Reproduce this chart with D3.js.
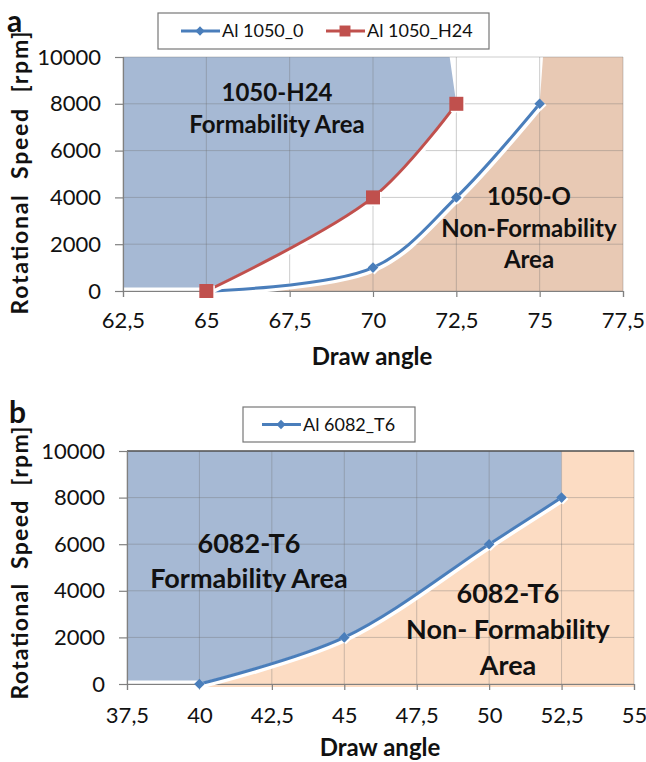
<!DOCTYPE html>
<html>
<head>
<meta charset="utf-8">
<script src="https://cdn.jsdelivr.net/npm/d3@7"></script>
<style>
  html, body { margin: 0; padding: 0; background: #fff; }
  svg { display: block; }
  text { font-family: Lato, "Open Sans", "DejaVu Sans", sans-serif; fill: #111; }
</style>
</head>
<body>
<svg id="fig" width="646" height="762"></svg>
<script>
// ---- Panel a: Al 1050 ----
const aXTicks = [62.5, 65, 67.5, 70, 72.5, 75, 77.5];
const aYTicks = [0, 2000, 4000, 6000, 8000, 10000];
const a1050O_angle = [65, 70, 72.5, 75];
const a1050O_speed = [0, 1000, 4000, 8000];
const a1050H24_angle = [65, 70, 72.5];
const a1050H24_speed = [0, 4000, 8000];

// ---- Panel b: Al 6082 ----
const bXTicks = [37.5, 40, 42.5, 45, 47.5, 50, 52.5, 55];
const bYTicks = [0, 2000, 4000, 6000, 8000, 10000];
const b6082_angle = [40, 45, 50, 52.5];
const b6082_speed = [0, 2000, 6000, 8000];

const fmt = d => String(d).replace(".", ",");
const BLUE = "#4a7ebb", RED = "#c0504d";
const svg = d3.select("#fig");

function drawPanel(p) {
  const g = svg.append("g");
  const x = d3.scaleLinear().domain(p.xDomain).range(p.xRange);
  const y = d3.scaleLinear().domain([0, 10000]).range(p.yRange);
  const curve = d3.curveCatmullRom.alpha(0.5);
  const lineGen = d3.line().x(d => x(d[0])).y(d => y(d[1])).curve(curve);
  const seg = pts => lineGen(pts).replace(/^M/, "L");

  // formability (blue) region: left of / above the boundary curve
  const fb = p.formBoundary;
  g.append("path")
    .attr("d", `M${x(p.xDomain[0])},${y(10000)}L${x(p.xDomain[0])},${y(p.floor)}L${x(fb.pts[0][0])},${y(p.floor)}` +
               seg(fb.pts) + `L${x(fb.topEdge)},${y(10000)}Z`)
    .attr("fill", "#a6b9d4");

  // non-formability (orange) region: right of / below its boundary curve
  const nb = p.nonBoundary;
  g.append("path")
    .attr("d", lineGen(nb.pts) + `L${x(nb.topEdge)},${y(10000)}L${x(p.xDomain[1])},${y(10000)}L${x(p.xDomain[1])},${y(0) + p.orangeDrop}L${x(nb.pts[0][0])},${y(0) + p.orangeDrop}Z`)
    .attr("fill", p.orange);

  // gridlines
  g.selectAll(".hg").data(p.yTicks).join("line")
    .attr("x1", x(p.xDomain[0])).attr("x2", x(p.xDomain[1]))
    .attr("y1", d => y(d)).attr("y2", d => y(d))
    .attr("stroke", "rgba(110,110,110,0.35)").attr("stroke-width", 1);
  g.selectAll(".vg").data(p.xTicks).join("line")
    .attr("x1", d => x(d)).attr("x2", d => x(d))
    .attr("y1", y(0)).attr("y2", y(10000))
    .attr("stroke", "rgba(110,110,110,0.35)").attr("stroke-width", 1);
  if (p.darkTop) {
    g.append("line").attr("x1", x(p.xDomain[0])).attr("x2", x(p.xDomain[1]))
      .attr("y1", y(10000)).attr("y2", y(10000)).attr("stroke", "#555").attr("stroke-width", 1.5);
  }

  // axes
  const xAxis = d3.axisBottom(x).tickValues(p.xTicks).tickFormat(fmt).tickSize(6).tickPadding(p.xPad);
  const yAxis = d3.axisLeft(y).tickValues(p.yTicks).tickFormat(d => d).tickSize(8).tickPadding(14);
  const gx = g.append("g").attr("transform", `translate(0,${y(0)})`).call(xAxis);
  const gy = g.append("g").attr("transform", `translate(${x(p.xDomain[0])},0)`).call(yAxis);
  [gx, gy].forEach(ax => {
    ax.select(".domain").attr("stroke", "#808080").attr("stroke-width", 1.2);
    ax.selectAll(".tick line").attr("stroke", "#808080").attr("stroke-width", 1.2);
    ax.selectAll("text").style("font-size", "22px").attr("fill", "#111");
  });

  // series
  p.series.forEach(s => {
    const pts = s.angle.map((a, i) => [a, s.speed[i]]);
    g.append("path").attr("d", lineGen(pts)).attr("fill", "none")
      .attr("stroke", "#fff").attr("stroke-width", 6).attr("transform", "translate(1.5,1.5)");
    g.append("path").attr("d", lineGen(pts)).attr("fill", "none")
      .attr("stroke", s.color).attr("stroke-width", 3);
    const sym = d3.symbol().type(s.marker === "square" ? d3.symbolSquare : d3.symbolDiamond2)
      .size(s.marker === "square" ? 196 : 72);
    g.selectAll(null).data(pts).join("path")
      .attr("d", sym).attr("transform", d => `translate(${x(d[0]) + 1.5},${y(d[1]) + 1.5})`)
      .attr("fill", "#fff");
    g.selectAll(null).data(pts).join("path")
      .attr("d", sym).attr("transform", d => `translate(${x(d[0])},${y(d[1])})`)
      .attr("fill", s.color);
  });

  // region labels
  p.notes.forEach(n => {
    const t = g.append("text").attr("text-anchor", "middle")
      .style("font-size", p.noteSize + "px").style("font-weight", "bold");
    n.lines.forEach((l, i) => t.append("tspan").attr("x", n.x).attr("y", n.y + i * n.dy).text(l));
  });

  // axis titles & panel letter
  g.append("text").attr("x", p.xTitle[0]).attr("y", p.xTitle[1]).attr("text-anchor", "middle")
    .style("font-size", "24px").style("font-weight", "bold").text("Draw angle");
  g.append("text").attr("transform", `translate(${p.yTitle[0]},${p.yTitle[1]}) rotate(-90)`)
    .attr("text-anchor", "middle").style("font-size", "23px").style("font-weight", "bold")
    .attr("textLength", p.yTitle[2]).attr("lengthAdjust", "spacing")
    .style("white-space", "pre").text("Rotational  Speed  [rpm]");
  g.append("text").attr("x", p.letter[0]).attr("y", p.letter[1])
    .style("font-size", "30px").style("font-weight", "bold").text(p.letterText);

  // legend
  const L = p.legend;
  g.append("rect").attr("x", L.box[0]).attr("y", L.box[1]).attr("width", L.box[2]).attr("height", L.box[3])
    .attr("fill", "#fff").attr("stroke", "#777").attr("stroke-width", 1.2);
  L.items.forEach((it, i) => {
    const s = p.series[i];
    const cy = L.box[1] + L.box[3] / 2;
    g.append("line").attr("x1", it).attr("x2", it + 39).attr("y1", cy).attr("y2", cy)
      .attr("stroke", s.color).attr("stroke-width", 3);
    const sym = d3.symbol().type(s.marker === "square" ? d3.symbolSquare : d3.symbolDiamond2)
      .size(s.marker === "square" ? 120 : 55);
    g.append("path").attr("d", sym).attr("transform", `translate(${it + 19},${cy})`).attr("fill", s.color);
    g.append("text").attr("x", it + 41).attr("y", cy + 6).style("font-size", "18px").text(s.name);
  });
}

drawPanel({
  xDomain: [62.5, 77.5], xRange: [123, 623], yRange: [291, 57],
  xTicks: aXTicks, yTicks: aYTicks, floor: 150, orangeDrop: 0, xPad: 15,
  orange: "#e8c9b4", noteSize: 24,
  formBoundary: { pts: a1050H24_angle.map((a, i) => [a, a1050H24_speed[i]]), topEdge: 72.3 },
  nonBoundary: { pts: a1050O_angle.map((a, i) => [a, a1050O_speed[i]]), topEdge: 75.1 },
  series: [
    { name: "Al 1050_0", angle: a1050O_angle, speed: a1050O_speed, color: BLUE, marker: "diamond" },
    { name: "Al 1050_H24", angle: a1050H24_angle, speed: a1050H24_speed, color: RED, marker: "square" }
  ],
  notes: [
    { x: 277, y: 101, dy: 32, lines: ["1050-H24", "Formability Area"] },
    { x: 529, y: 205, dy: 31.5, lines: ["1050-O", "Non-Formability", "Area"] }
  ],
  xTitle: [372, 365], yTitle: [28, 173, 283], letter: [7, 32], letterText: "a",
  legend: { box: [158, 13, 331, 36], items: [181, 326] }
});

drawPanel({
  xDomain: [37.5, 55], xRange: [127, 634], yRange: [684, 451],
  xTicks: bXTicks, yTicks: bYTicks, floor: 150, orangeDrop: 3, xPad: 17, darkTop: true,
  orange: "#fcdcc3", noteSize: 27,
  formBoundary: { pts: b6082_angle.map((a, i) => [a, b6082_speed[i]]), topEdge: 52.5 },
  nonBoundary: { pts: b6082_angle.map((a, i) => [a, b6082_speed[i]]), topEdge: 52.5 },
  series: [
    { name: "Al 6082_T6", angle: b6082_angle, speed: b6082_speed, color: BLUE, marker: "diamond" }
  ],
  notes: [
    { x: 249, y: 553, dy: 35, lines: ["6082-T6", "Formability Area"] },
    { x: 508, y: 603, dy: 36, lines: ["6082-T6", "Non- Formability", "Area"] }
  ],
  xTitle: [380, 756], yTitle: [28, 563, 273], letter: [9, 423], letterText: "b",
  legend: { box: [243, 407, 172, 35], items: [262] }
});
</script>
</body>
</html>
